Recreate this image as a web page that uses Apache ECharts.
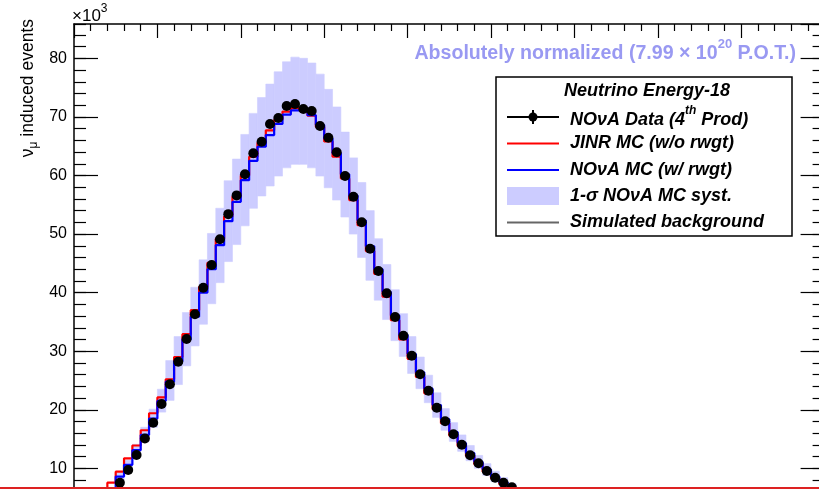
<!DOCTYPE html>
<html>
<head>
<meta charset="utf-8">
<script src="https://cdn.jsdelivr.net/npm/echarts@6/dist/echarts.min.js"></script>
<style>
html,body{margin:0;padding:0;background:#fff;}
#c{width:819px;height:489px;}
</style>
</head>
<body>
<div id="c"></div>
<script>
// Bin low edges (GeV), bin width 0.1
var binLow = [0.3,0.4,0.5,0.6,0.7,0.8,0.9,1.0,1.1,1.2,1.3,1.4,1.5,1.6,1.7,1.8,1.9,2.0,2.1,2.2,2.3,2.4,2.5,2.6,2.7,2.8,2.9,3.0,3.1,3.2,3.3,3.4,3.5,3.6,3.7,3.8,3.9,4.0,4.1,4.2,4.3,4.4,4.5,4.6,4.7,4.8,4.9,5.0,5.1,5.2,5.3];
var binWidth = 0.1;
// values in units of 10^3 events
var dataNova = [null,5.6,7.55,9.71,12.28,15.1,17.79,20.98,24.35,28.21,32.08,36.3,40.84,44.72,49.1,53.4,56.6,60.2,63.79,65.77,68.8,69.81,71.86,72.2,71.35,71.0,68.45,66.45,63.96,59.91,56.38,52.0,47.5,43.69,39.88,35.84,32.64,29.23,26.05,23.25,20.35,18.03,15.81,14.03,12.22,10.86,9.54,8.4,7.55,6.76,5.9];
var jinrMC = [5.6,7.55,9.43,11.7,13.9,16.5,19.4,22.1,25.2,29.0,32.9,37.0,41.0,45.1,49.2,53.0,56.4,60.0,63.2,65.6,67.7,69.5,70.9,71.5,71.1,70.2,68.3,65.8,63.2,59.5,55.8,51.5,47.1,43.2,39.3,35.3,32.0,28.7,25.6,22.8,20.1,17.7,15.6,13.8,12.1,10.7,9.4,8.3,7.3,6.4,5.6];
var novaMC = [4.2,6.0,8.6,10.6,13.1,15.7,18.5,21.5,24.8,28.3,32.0,35.9,40.0,44.0,48.1,52.2,55.5,59.2,62.5,64.9,66.9,68.8,70.4,71.1,71.0,70.3,68.6,66.3,63.8,60.2,56.6,52.3,47.9,44.0,40.1,36.1,32.8,29.5,26.4,23.6,20.8,18.4,16.2,14.3,12.6,11.1,9.8,8.6,7.6,6.7,5.9];
var systHigh = [4.5,6.5,9.2,11.4,14.1,17.0,20.1,23.5,28.4,32.5,36.6,40.9,45.6,50.1,54.4,59.1,62.8,67.0,70.6,73.3,75.6,77.7,79.4,80.2,80.0,79.2,77.3,74.7,71.7,67.4,63.0,58.8,54.0,49.2,44.8,40.5,36.4,32.5,29.0,25.9,22.9,20.2,17.8,15.7,13.9,12.2,10.8,9.5,8.4,7.4,6.5];
var systLow = [3.9,5.6,8.0,9.9,12.2,14.5,17.0,19.6,21.6,24.3,27.5,30.9,34.6,38.1,41.7,45.3,48.2,51.4,54.4,56.5,58.2,59.9,61.3,61.9,61.9,61.3,59.9,57.9,55.8,52.9,50.0,46.0,42.1,38.7,35.4,31.8,29.1,26.2,23.6,21.2,18.7,16.5,14.6,12.9,11.3,10.0,8.8,7.7,6.8,6.0,5.3];
var yTicks = [10,20,30,40,50,60,70,80];

var FONT = '"Liberation Sans", Arial, Helvetica, sans-serif';

function stepData(vals){
  var out = [];
  for (var i=0;i<binLow.length;i++){ out.push([binLow[i], vals[i]]); }
  out.push([binLow[binLow.length-1]+binWidth, vals[vals.length-1]]);
  return out;
}
var bandData = binLow.map(function(x,i){ return [x, x+binWidth, systLow[i], systHigh[i]]; });
var pointData = [];
binLow.forEach(function(x,i){ if (dataNova[i]!=null) pointData.push([x+binWidth/2, dataNova[i]]); });

var YMAX = 85.86;
function yAx(pos, interval, len, showLabel, showLine){
  return {
    type:'value', position:pos, min:0, max:YMAX, interval:interval,
    axisLine:{show:showLine, lineStyle:{color:'#000', width:1.5}},
    axisTick:{show:true, inside:true, length:len, lineStyle:{color:'#000', width:1.2}},
    splitLine:{show:false},
    axisLabel:{show:showLabel, showMaxLabel:false, showMinLabel:false, margin:7, color:'#000', fontSize:16, fontFamily:FONT,
      formatter:function(v){ return yTicks.indexOf(v)>=0 ? String(v) : ''; }}
  };
}

var chart = echarts.init(document.getElementById('c'), null, {renderer:'canvas'});
chart.setOption({
  animation:false,
  backgroundColor:'#fff',
  grid:{left:74, top:24, width:750.6, height:502.9, containLabel:false, outerBoundsMode:'none'},
  xAxis:{type:'value', position:'top', min:0, max:9, interval:1,
    axisLine:{show:true, onZero:false, lineStyle:{color:'#000', width:1.5}},
    axisTick:{show:true, inside:true, length:14, lineStyle:{color:'#000', width:1.2}},
    minorTick:{show:true, splitNumber:5, length:7, lineStyle:{color:'#000', width:1.2}},
    axisLabel:{show:false}, splitLine:{show:false}},
  yAxis:[yAx('left',10,24,true,true), yAx('left',2,12,false,false), yAx('right',10,24,false,true), yAx('right',2,12,false,false)],
  series:[
    {type:'custom', name:'syst', data:bandData, encode:{x:[0,1], y:[2,3]}, z:1,
      renderItem:function(params, api){
        var p0 = api.coord([api.value(0), api.value(3)]);
        var p1 = api.coord([api.value(1), api.value(2)]);
        return {type:'rect', shape:{x:p0[0], y:p0[1], width:p1[0]-p0[0], height:p1[1]-p0[1]},
          style:{fill:'#ccccff', stroke:'#ccccff', lineWidth:0.6}};
      }},
    {type:'line', name:'JINR', data:stepData(jinrMC), step:'end', showSymbol:false, z:2,
      lineStyle:{color:'#ff0000', width:2.2}},
    {type:'line', name:'NOvA MC', data:stepData(novaMC), step:'end', showSymbol:false, z:3,
      lineStyle:{color:'#0000ff', width:2.2}},
    {type:'scatter', name:'data', data:pointData, symbol:'circle', symbolSize:10, z:4,
      itemStyle:{color:'#000', opacity:1}}
  ],
  graphic:[
    {type:'text', x:72, y:14, style:{
      text:'{a|×10}{s|3}', fill:'#000', verticalAlign:'middle',
      rich:{a:{fontSize:17, fontFamily:FONT, lineHeight:22, verticalAlign:'bottom'}, s:{fontSize:12, fontFamily:FONT, lineHeight:22, verticalAlign:'top'}}}},
    {type:'text', x:28, y:19, rotation:Math.PI/2, style:{
      text:'{a|ν}{s|μ}{a| induced events}', fill:'#000', align:'right', verticalAlign:'middle',
      rich:{a:{fontSize:17.5, fontFamily:FONT, lineHeight:24, verticalAlign:'middle'}, s:{fontSize:12, fontFamily:FONT, lineHeight:24, verticalAlign:'bottom'}}}},
    {type:'text', x:796, y:51, style:{
      text:'{a|Absolutely normalized (7.99 × 10}{s|20}{a| P.O.T.)}', fill:'#9999f2', align:'right', verticalAlign:'middle',
      rich:{a:{fontSize:19.6, fontWeight:'bold', fontFamily:FONT, lineHeight:26, verticalAlign:'bottom', fill:'#9999f2'}, s:{fontSize:13, fontWeight:'bold', fontFamily:FONT, lineHeight:26, verticalAlign:'top', fill:'#9999f2'}}}},
    // legend box
    {type:'rect', shape:{x:496, y:77, width:296, height:159}, style:{fill:'#fff', stroke:'#000', lineWidth:1.5}, z:10},
    {type:'text', x:647, y:91, z:11, style:{text:'Neutrino Energy-18', fill:'#000', align:'center', verticalAlign:'middle', font:'italic bold 18px '+FONT}},
    {type:'line', z:11, shape:{x1:507, y1:117, x2:559, y2:117}, style:{stroke:'#000', lineWidth:2}},
    {type:'line', z:11, shape:{x1:533, y1:110, x2:533, y2:124}, style:{stroke:'#000', lineWidth:2}},
    {type:'circle', z:12, shape:{cx:533, cy:117, r:4.5}, style:{fill:'#000'}},
    {type:'text', x:570, y:117, z:11, style:{
      text:'{a|NOνA Data (4}{s|th}{a| Prod)}', fill:'#000', verticalAlign:'middle',
      rich:{a:{fontSize:18, fontWeight:'bold', fontStyle:'italic', fontFamily:FONT, lineHeight:24, verticalAlign:'bottom'}, s:{fontSize:12, fontWeight:'bold', fontStyle:'italic', fontFamily:FONT, lineHeight:24, verticalAlign:'top'}}}},
    {type:'line', z:11, shape:{x1:507, y1:143.5, x2:559, y2:143.5}, style:{stroke:'#ff0000', lineWidth:2}},
    {type:'text', x:570, y:143.5, z:11, style:{text:'JINR MC (w/o rwgt)', fill:'#000', verticalAlign:'middle', font:'italic bold 18px '+FONT}},
    {type:'line', z:11, shape:{x1:507, y1:170, x2:559, y2:170}, style:{stroke:'#0000ff', lineWidth:2}},
    {type:'text', x:570, y:170, z:11, style:{text:'NOνA MC (w/ rwgt)', fill:'#000', verticalAlign:'middle', font:'italic bold 18px '+FONT}},
    {type:'rect', z:11, shape:{x:507, y:187, width:52, height:18}, style:{fill:'#ccccff'}},
    {type:'text', x:570, y:196, z:11, style:{text:'1-σ NOνA MC syst.', fill:'#000', verticalAlign:'middle', font:'italic bold 18px '+FONT}},
    {type:'line', z:11, shape:{x1:507, y1:222.5, x2:559, y2:222.5}, style:{stroke:'#666666', lineWidth:2}},
    {type:'text', x:570, y:222.5, z:11, style:{text:'Simulated background', fill:'#000', verticalAlign:'middle', font:'italic bold 18px '+FONT}},
    // red line at bottom edge
    {type:'line', z:20, shape:{x1:0, y1:488, x2:819, y2:488}, style:{stroke:'#dd2222', lineWidth:2}}
  ]
});
</script>
</body>
</html>
